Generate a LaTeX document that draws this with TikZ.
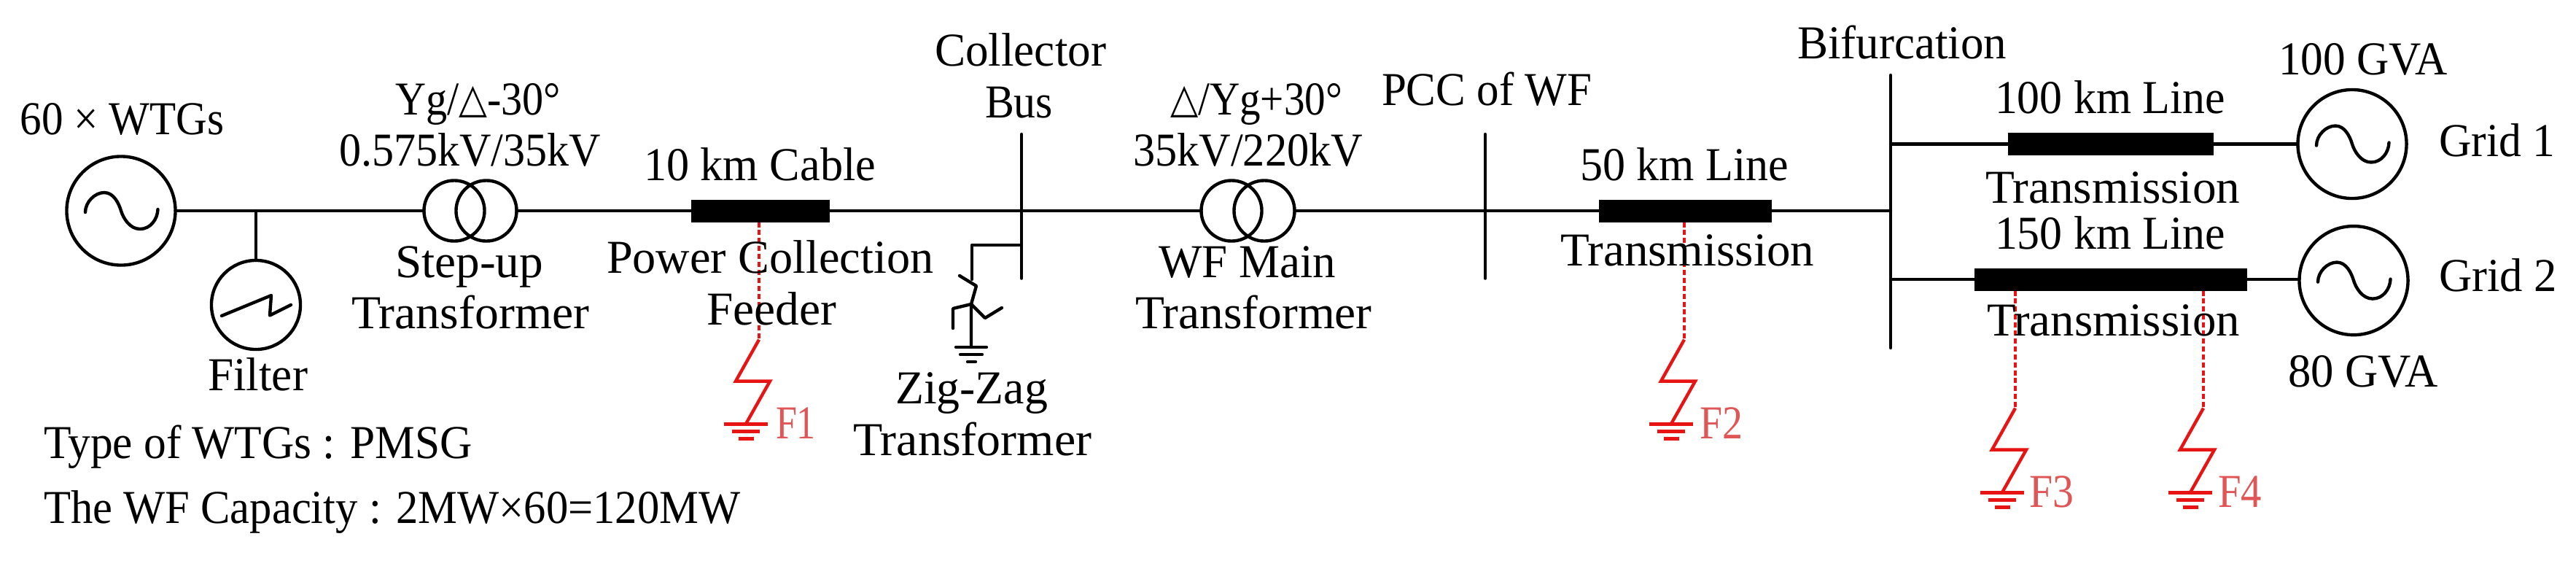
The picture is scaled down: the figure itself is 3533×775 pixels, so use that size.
\documentclass[tikz,border=0pt]{standalone}
\usepackage{fontspec}
\usepackage{graphicx}
\setmainfont{Liberation Serif}
\newfontfamily\dejavu{DejaVu Sans}
\definecolor{faultred}{HTML}{E81414}
\definecolor{faulttext}{HTML}{E05555}
\newsavebox\labbox
\newlength\labw
% \lab[colour]{name}{left}{right}{baseline}{text}: text fitted to the given span
\newcommand\lab[6][black]{%
  \pgfinterruptpicture
  \global\sbox\labbox{\normalfont\fontsize{18.4}{22}\selectfont\color{#1}#6}%
  \endpgfinterruptpicture
  \setlength\labw{\wd\labbox}%
  \pgfmathsetmacro\labr{(#4-#3)*0.28453pt/\labw}%
  \node[anchor=base west,inner sep=0pt,outer sep=0pt] (#2) at (#3,#5) {\scalebox{\labr}[1]{\usebox\labbox}};%
}
\newcommand\tri{\raisebox{0.6pt}{\fontsize{16}{22}\dejavu △}}
\tikzset{
  wire/.style={line width=1.25pt,line cap=round,line join=round},
  gensym/.style={circle,draw,line width=1.25pt,minimum size=1.49cm,inner sep=0pt,outer sep=0pt},
  filtsym/.style={circle,draw,line width=1.25pt,minimum size=1.22cm,inner sep=0pt,outer sep=0pt},
  xfmr/.style={circle,draw,line width=1.25pt,minimum size=0.83cm,inner sep=0pt,outer sep=0pt},
  linebox/.style={rectangle,fill=black,inner sep=0pt,outer sep=0pt},
  faultdash/.style={faultred,line width=1.05pt,dash pattern=on 2pt off 1.1pt},
  faultbolt/.style={faultred,line width=1.25pt,line join=miter},
}
% sine wave inside a generator node
\newcommand\sinewave[1]{%
  \draw[line width=1.25pt,line cap=round,shift={(#1.center)}] (-49,2)
    .. controls (-49,-12) and (-36,-25) .. (-23,-25)
    .. controls (-10,-25) and (-3,-10) .. (0,0)
    .. controls (3,10) and (12,25) .. (26,25)
    .. controls (40,25) and (50,12) .. (50.5,-2);%
}
% fault bolt and earth below a named coordinate
\newcommand\faultmark[1]{%
  \draw[faultbolt] (#1) -- ++(-32,57) -- ++(47,0) -- ++(-33,58.5);%
  \draw[faultbolt] ([shift={(-48,116)}]#1) -- ++(60,0);%
  \draw[faultbolt] ([shift={(-37,126)}]#1) -- ++(38,0);%
  \draw[faultbolt] ([shift={(-28,136)}]#1) -- ++(21,0);%
}
\begin{document}
\begin{tikzpicture}[x=0.01cm,y=-0.01cm]
\useasboundingbox (0,0) rectangle (3533,775);
\fill[white] (0,0) rectangle (3533,775);

% generators, filter, transformers
\node[gensym] (g0) at (166,289) {};
\node[gensym] (g1) at (3226,197.5) {};
\node[gensym] (g2) at (3228,384.6) {};
\sinewave{g0}\sinewave{g1}\sinewave{g2}
\node[filtsym] (filter) at (351,418) {};
\draw[wire] (304,433) -- (372,405) -- (370,432.5) -- (399,418);
\node[xfmr] (t1a) at (623,289) {};
\node[xfmr] (t1b) at (667,289) {};
\node[xfmr] (t2a) at (1689,289) {};
\node[xfmr] (t2b) at (1734,289) {};

% line boxes
\node[linebox,minimum width=1.90cm,minimum height=0.31cm] (cable) at (1043,289) {};
\node[linebox,minimum width=2.37cm,minimum height=0.31cm] (l50) at (2311.5,289) {};
\node[linebox,minimum width=2.825cm,minimum height=0.31cm] (l100) at (2895,197.5) {};
\node[linebox,minimum width=3.74cm,minimum height=0.31cm] (l150) at (2895,383) {};

% buses
\coordinate (cbT) at (1401,184); \coordinate (cbB) at (1401,381.6);
\coordinate (pcT) at (2037,184); \coordinate (pcB) at (2037,381.6);
\coordinate (bfT) at (2593,103); \coordinate (bfB) at (2593,477);
\draw[wire] (cbT) -- (cbB);
\draw[wire] (pcT) -- (pcB);
\draw[wire] (bfT) -- (bfB);

% main connectors
\draw[wire] (g0.east) -- (t1a.west);
\draw[wire] (filter.north) -- (filter.north |- g0.east);
\draw[wire] (t1b.east) -- (cable.west);
\draw[wire] (cable.east) -- (t2a.west);
\draw[wire] (t2b.east) -- (l50.west);
\draw[wire] (l50.east) -- (l50.east -| bfT);
\draw[wire] (bfT |- l100.west) -- (l100.west);
\draw[wire] (l100.east) -- (g1.west);
\draw[wire] (bfT |- l150.west) -- (l150.west);
\draw[wire] (l150.east) -- (l150.east -| g2.west);

% zig-zag transformer
\coordinate (zzA) at (1333,336);
\coordinate (zzN) at (1332,417);
\coordinate (zzG) at (1332,476);
\draw[wire] (cbT |- zzA) -- (zzA) -- (1333,383);
\draw[wire] (1316,378) -- (1339,392) -- (zzN) -- (zzG);
\draw[wire] (1307,450) -- (1307,423) -- (zzN) -- (1351,436) -- (1374,422);
\draw[wire] (1311,476) -- (1353,476);
\draw[wire] (1317,486) -- (1347,486);
\draw[wire] (1327,496) -- (1338,496);

% faults
\coordinate (f1) at (1041,465.6);
\coordinate (f2) at (2310,465.6);
\coordinate (f3) at (2764,559.6);
\coordinate (f4) at (3022,559.6);
\draw[faultdash] (cable.south -| f1) -- (f1);
\draw[faultdash] (l50.south -| f2) -- (f2);
\draw[faultdash] (l150.south -| f3) -- (f3);
\draw[faultdash] (l150.south -| f4) -- (f4);
\faultmark{f1}\faultmark{f2}\faultmark{f3}\faultmark{f4}

% labels
\lab{tWTG}{27.5}{307}{184}{60 × WTGs}
\lab{tYg1}{542}{769}{157}{Yg/\tri-30°}
\lab{tV1}{465}{824}{227}{0.575kV/35kV}
\lab{tStep}{542}{745}{380}{Step-up}
\lab{tT1}{482}{808}{450}{Transformer}
\lab{tFilter}{285}{422}{535}{Filter}
\lab{tType}{60}{647.5}{628}{Type of WTGs : PMSG}
\lab{tCap}{60}{1015}{717}{The WF Capacity : 2MW×60=120MW}
\lab{tCable}{883}{1201}{247}{10 km Cable}
\lab{tPow}{832}{1280}{374}{Power Collection}
\lab{tFeed}{969}{1147}{445}{Feeder}
\lab{tColl}{1282}{1517}{90}{Collector}
\lab{tBus}{1351}{1444}{161}{Bus}
\lab{tYg2}{1605}{1841}{157}{\tri/Yg+30°}
\lab{tV2}{1554}{1869}{227}{35kV/220kV}
\lab{tWF}{1589}{1832}{380}{WF Main}
\lab{tT2}{1557}{1881.5}{450}{Transformer}
\lab{tZig}{1228}{1437}{553.6}{Zig-Zag}
\lab{tT3}{1170}{1497}{624}{Transformer}
\lab{tPCC}{1895}{2183}{144}{PCC of WF}
\lab{t50}{2167}{2453}{247}{50 km Line}
\lab{tTr50}{2140}{2488}{364}{Transmission}
\lab{tBif}{2465}{2752}{80}{Bifurcation}
\lab{t100}{2736}{3052}{155}{100 km Line}
\lab{tTr100}{2723}{3072}{278}{Transmission}
\lab{t150}{2736}{3052}{341}{150 km Line}
\lab{tTr150}{2725}{3072}{460}{Transmission}
\lab{tG100}{3125}{3357}{102}{100 GVA}
\lab{tGrid1}{3345}{3504}{214.5}{Grid 1}
\lab{tGrid2}{3345}{3507}{399}{Grid 2}
\lab{tG80}{3138}{3344}{530}{80 GVA}
\lab[faulttext]{tF1}{1064}{1119}{601.6}{F1}
\lab[faulttext]{tF2}{2331}{2390}{601.6}{F2}
\lab[faulttext]{tF3}{2783}{2844}{695.5}{F3}
\lab[faulttext]{tF4}{3042}{3102}{695.5}{F4}
\end{tikzpicture}
\end{document}
